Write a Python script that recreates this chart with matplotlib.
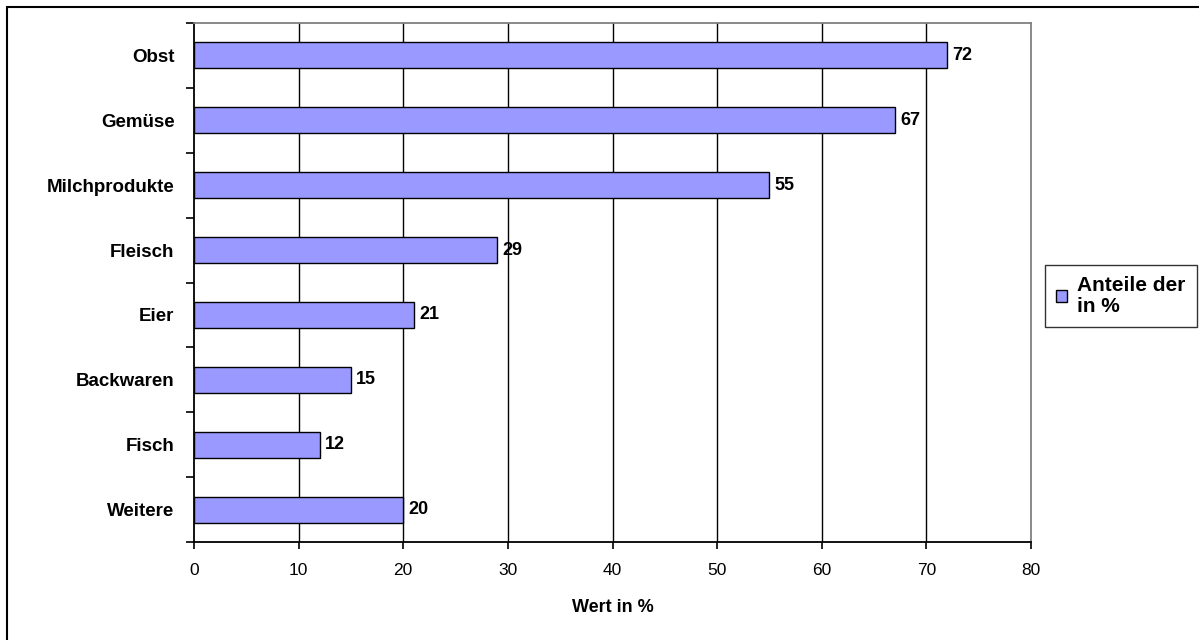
import matplotlib
matplotlib.use("Agg")
import matplotlib.pyplot as plt
from matplotlib.patches import Rectangle
from matplotlib.ticker import FixedLocator, NullFormatter

plt.rcParams['font.family'] = ['Liberation Sans', 'DejaVu Sans']

# Lebensmittelgruppen (von oben nach unten) und ihre Anteile in %
categories = ["Obst", "Gemüse", "Milchprodukte", "Fleisch", "Eier", "Backwaren", "Fisch", "Weitere"]
values = [72, 67, 55, 29, 21, 15, 12, 20]
x_ticks = [0, 10, 20, 30, 40, 50, 60, 70, 80]
series_label = "Anteile der\nin %"
x_label = "Wert in %"

W, H = 1199, 640
fig = plt.figure(figsize=(W / 100, H / 100), dpi=100)

# Plot area in pixel terms
left_px, right_px, top_px, bottom_px = 194, 1031, 23, 542
ax = fig.add_axes([left_px / W, 1 - bottom_px / H,
                   (right_px - left_px) / W, (bottom_px - top_px) / H])

n = len(categories)
ypos = list(range(n))
ax.barh(ypos, values, height=0.4, color="#9999FF", edgecolor="black",
        linewidth=1.0, zorder=3, label=series_label)
ax.set_ylim(n - 0.5, -0.5)
ax.set_xlim(x_ticks[0], x_ticks[-1])

# Vertical gridlines
for xv in x_ticks[1:-1]:
    ax.axvline(xv, color="black", linewidth=1.0, zorder=1)

# Spines: left/bottom black axes, top/right grey plot frame
for side in ("left", "bottom"):
    ax.spines[side].set_color("black")
    ax.spines[side].set_linewidth(1.3)
for side in ("top", "right"):
    ax.spines[side].set_color("#808080")
    ax.spines[side].set_linewidth(1.3)

# X ticks
ax.set_xticks(x_ticks)
ax.set_xticklabels([str(v) for v in x_ticks], fontsize=12.5)
ax.tick_params(axis="x", direction="out", length=5, width=1.2, pad=10, color="black")

# Y ticks: marks at category boundaries, labels at centres
ax.yaxis.set_major_locator(FixedLocator([i - 0.5 for i in range(n + 1)]))
ax.yaxis.set_major_formatter(NullFormatter())
ax.yaxis.set_minor_locator(FixedLocator(ypos))
ax.set_yticklabels(categories, minor=True, fontsize=13.5, fontweight="bold")
ax.tick_params(axis="y", which="major", direction="out", length=6, width=1.2)
ax.tick_params(axis="y", which="minor", length=0, pad=14)

# Value labels
for y, v in zip(ypos, values):
    ax.text(v + 0.5, y, str(v), va="center", ha="left", fontsize=13,
            fontweight="bold", zorder=4)

fig.text((left_px + right_px) / 2 / W, 1 - 607 / H, x_label, ha="center",
         va="center", fontsize=13, fontweight="bold")

# Legend
handle = Rectangle((0, 0), 1, 1, facecolor="#9999FF", edgecolor="black", linewidth=1.0)
leg = fig.legend([handle], [series_label], loc="upper left",
                 bbox_to_anchor=(1045 / W, 1 - 265 / H), borderaxespad=0,
                 frameon=True, fancybox=False, shadow=False, borderpad=0.55,
                 handlelength=0.5, handleheight=0.5, handletextpad=0.5,
                 prop={"size": 15, "weight": "bold"})
leg.get_frame().set_edgecolor("black")
leg.get_frame().set_linewidth(1.0)
for t in leg.get_texts():
    t.set_linespacing(1.1)

# Outer chart border (right and bottom edges fall outside the canvas)
fig.patches.append(Rectangle((7 / W, -3 / H), (W + 3 - 7) / W, (H - 7 + 3) / H,
                             transform=fig.transFigure, fill=False,
                             edgecolor="black", linewidth=1.5))

fig.savefig("out.png", dpi=100)
